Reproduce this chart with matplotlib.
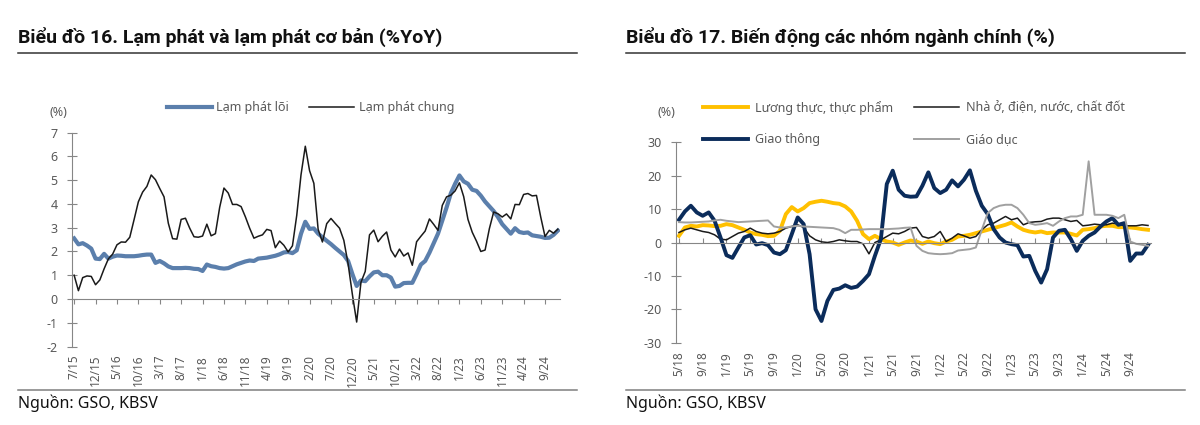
import matplotlib
matplotlib.use('Agg')
import matplotlib.pyplot as plt
from matplotlib.lines import Line2D

plt.rcParams['font.family'] = ['Noto Sans', 'DejaVu Sans']
plt.rcParams['axes.unicode_minus'] = False

# ---- Biểu đồ 16: 7/2015 - 12/2024 (%YoY) ----
core_cpi = [2.55, 2.3, 2.35, 2.25, 2.12, 1.7, 1.68, 1.9, 1.7, 1.78,
            1.83, 1.82, 1.8, 1.8, 1.8, 1.82, 1.85, 1.87, 1.87, 1.52,
            1.6, 1.5, 1.37, 1.3, 1.3, 1.3, 1.31, 1.3, 1.27, 1.26,
            1.18, 1.45, 1.38, 1.35, 1.3, 1.28, 1.3, 1.38, 1.46, 1.52,
            1.58, 1.62, 1.6, 1.7, 1.72, 1.74, 1.78, 1.82, 1.88, 1.96,
            1.98, 1.93, 2.05, 2.75, 3.25, 2.95, 2.97, 2.75, 2.6, 2.45,
            2.31, 2.15, 2.0, 1.85, 1.6, 1.05, 0.55, 0.78, 0.75, 0.95,
            1.12, 1.15, 1.0, 1.0, 0.9, 0.52, 0.55, 0.67, 0.68, 0.68,
            1.05, 1.45, 1.6, 1.95, 2.35, 2.75, 3.3, 3.85, 4.45, 4.85,
            5.2, 4.95, 4.85, 4.6, 4.55, 4.35, 4.1, 3.9, 3.7, 3.45,
            3.15, 2.95, 2.75, 2.98, 2.82, 2.78, 2.8, 2.68, 2.65, 2.62,
            2.57, 2.58, 2.7, 2.88]
headline_cpi = [1.0, 0.35, 0.9, 0.97, 0.95, 0.6, 0.8, 1.27, 1.69, 1.89,
                2.28, 2.4, 2.39, 2.6, 3.34, 4.09, 4.5, 4.74, 5.22, 5.02,
                4.65, 4.3, 3.19, 2.54, 2.52, 3.35, 3.4, 2.98, 2.62, 2.6,
                2.65, 3.15, 2.66, 2.75, 3.86, 4.67, 4.46, 3.98, 3.98, 3.89,
                3.46, 2.98, 2.56, 2.64, 2.7, 2.93, 2.88, 2.16, 2.44, 2.26,
                1.98, 2.24, 3.52, 5.23, 6.43, 5.4, 4.87, 2.93, 2.4, 3.17,
                3.39, 3.18, 2.98, 2.47, 1.48, 0.19, -0.97, 0.7, 1.16, 2.7,
                2.9, 2.41, 2.64, 2.82, 2.06, 1.77, 2.1, 1.81, 1.94, 1.42,
                2.41, 2.64, 2.86, 3.37, 3.14, 2.89, 3.94, 4.3, 4.37, 4.55,
                4.89, 4.31, 3.35, 2.81, 2.43, 2.0, 2.06, 2.96, 3.66, 3.59,
                3.45, 3.58, 3.37, 3.98, 3.97, 4.4, 4.44, 4.34, 4.36, 3.45,
                2.63, 2.89, 2.77, 2.94]
left_tick_labels = ['7/15', '12/15', '5/16', '10/16', '3/17', '8/17', '1/18',
                    '6/18', '11/18', '4/19', '9/19', '2/20', '7/20', '12/20',
                    '5/21', '10/21', '3/22', '8/22', '1/23', '6/23', '11/23',
                    '4/24', '9/24']

# ---- Biểu đồ 17: 5/2018 - 12/2024 (%) ----
food = [2.0, 4.5, 5.0, 4.8, 5.2, 5.1, 4.9, 5.0, 5.5, 5.2,
        4.5, 3.8, 3.0, 2.5, 2.3, 1.9, 2.0, 3.5, 8.5, 10.6,
        9.3, 10.3, 11.8, 12.2, 12.5, 12.2, 11.8, 11.6, 10.8, 9.3,
        6.5, 2.5, 1.0, 2.0, 1.0, 0.3, 0.0, -0.7, 0.0, 0.6,
        0.3, -0.4, 0.3, -0.2, -0.5, 0.3, 0.8, 1.8, 2.0, 2.3,
        2.8, 3.3, 3.8, 4.3, 4.8, 5.3, 6.0, 4.8, 3.8, 3.3,
        3.0, 3.3, 2.8, 3.0, 3.0, 3.0, 2.6, 2.1, 3.8, 4.0,
        4.3, 4.8, 5.0, 5.0, 4.6, 4.6, 4.5, 4.3, 4.0, 3.8]
housing = [3.0, 3.8, 4.3, 3.8, 3.3, 3.0, 2.3, 1.0, 0.8, 1.8,
           2.8, 3.3, 4.3, 3.3, 2.8, 2.6, 2.8, 3.3, 4.3, 4.8,
           5.3, 4.5, 2.0, 0.8, 0.2, 0.0, 0.3, 0.8, 0.5, 0.3,
           0.3, -0.4, -3.4, 0.0, 0.8, 1.8, 2.8, 2.6, 3.3, 4.3,
           4.5, 1.8, 1.3, 1.8, 3.3, 0.3, 1.3, 2.6, 2.0, 1.3,
           1.8, 3.8, 5.3, 5.8, 6.8, 7.8, 6.8, 7.3, 5.3, 6.0,
           6.2, 6.3, 7.0, 7.3, 7.3, 6.8, 6.3, 6.6, 5.0, 5.2,
           5.5, 5.3, 5.3, 5.8, 5.5, 5.0, 5.0, 5.0, 5.3, 5.1]
transport = [6.8, 9.3, 11.0, 9.0, 8.0, 9.0, 6.5, 1.5, -3.8, -4.6,
             -1.5, 1.5, 2.2, -0.6, -0.2, -0.8, -3.0, -3.5, -2.3, 2.5,
             7.5, 5.5, -3.5, -20.0, -23.5, -17.5, -14.2, -13.8, -12.8, -13.6,
             -13.2, -11.5, -9.5, -4.0, 1.0, 17.5, 21.5, 15.8, 14.0, 13.7,
             13.8, 17.0, 21.0, 16.3, 14.8, 15.8, 18.6, 16.8, 18.8, 21.6,
             15.5, 11.0, 8.5, 4.0, 1.5, 0.0, -0.5, -0.8, -4.2, -4.0,
             -8.5, -12.0, -8.0, 1.5, 3.5, 3.8, 1.0, -2.5, 0.5, 2.0,
             3.0, 4.8, 6.3, 7.3, 5.3, 5.8, -5.5, -3.3, -3.3, -0.7]
education = [6.1, 6.0, 6.0, 6.1, 6.2, 6.3, 6.6, 6.8, 6.5, 6.3,
             6.1, 6.2, 6.3, 6.4, 6.5, 6.6, 4.8, 4.5, 4.5, 4.8,
             5.0, 4.8, 4.7, 4.6, 4.5, 4.4, 4.3, 3.8, 2.8, 3.8,
             3.8, 3.9, 4.0, 4.0, 4.0, 4.0, 4.1, 4.2, 4.4, 4.5,
             -1.0, -2.5, -3.2, -3.4, -3.5, -3.4, -3.2, -2.4, -2.2, -2.0,
             -1.5, 3.8, 8.8, 10.3, 11.0, 11.3, 11.3, 10.3, 8.3, 5.8,
             5.3, 5.5, 5.8, 5.0, 6.3, 7.3, 7.8, 7.8, 8.3, 24.3,
             8.3, 8.3, 8.3, 8.0, 7.3, 8.3, 0.3, -0.4, -0.7, -1.0]
right_tick_labels = ['5/18', '9/18', '1/19', '5/19', '9/19', '1/20', '5/20',
                     '9/20', '1/21', '5/21', '9/21', '1/22', '5/22', '9/22',
                     '1/23', '5/23', '9/23', '1/24', '5/24', '9/24']

GREY_TXT = '#595959'
GREY_AX = '#868686'

fig = plt.figure(figsize=(12, 4.25), dpi=100)


def style_axes(ax, n, step, labels, ylim, yticks, tick_dir):
    ax.set_xlim(-0.5, n - 0.5)
    ax.set_ylim(*ylim)
    for s in ['top', 'right']:
        ax.spines[s].set_visible(False)
    ax.spines['left'].set_color(GREY_AX)
    ax.spines['bottom'].set_color(GREY_AX)
    ax.spines['bottom'].set_position(('data', 0))
    ax.set_yticks(yticks)
    ax.tick_params(axis='y', direction='inout', length=6.5, color=GREY_AX,
                   labelsize=9, labelcolor=GREY_TXT, pad=7)
    pos = list(range(0, n, step))
    ax.set_xticks(pos)
    ax.tick_params(axis='x', direction=tick_dir, length=3.5, color=GREY_AX,
                   labelbottom=False)
    # nhãn trục x nằm ở đáy biểu đồ
    sec = ax.secondary_xaxis('bottom')
    sec.set_xticks(pos, labels=labels)
    sec.tick_params(length=0, labelrotation=90, labelsize=8.5,
                    labelcolor=GREY_TXT, pad=6)
    for s in sec.spines.values():
        s.set_visible(False)


# =================== Biểu đồ 16 ===================
ax1 = fig.add_axes([72 / 1200, 1 - 346.5 / 425, 488 / 1200, 213.8 / 425])
x1 = range(len(core_cpi))
l_core, = ax1.plot(x1, core_cpi, color='#5B7FAC', lw=3.0, solid_joinstyle='round')
l_head, = ax1.plot(x1, headline_cpi, color='#1A1A1A', lw=1.1)
style_axes(ax1, len(core_cpi), 5, left_tick_labels, (-2, 7), range(-2, 8), 'out')

leg_kw = dict(frameon=False, fontsize=9, handlelength=3.6, borderaxespad=0,
              borderpad=0, labelcolor=GREY_TXT, loc='center left',
              bbox_transform=fig.transFigure)
lg = ax1.legend([l_core], ['Lạm phát lõi'], bbox_to_anchor=(167 / 1200, 1 - 108 / 425),
                handletextpad=0.3, **leg_kw)
ax1.add_artist(lg)
ax1.legend([l_head], ['Lạm phát chung'], bbox_to_anchor=(309 / 1200, 1 - 108 / 425),
           handletextpad=0.4, **leg_kw)

# =================== Biểu đồ 17 ===================
ax2 = fig.add_axes([676 / 1200, 1 - 342.7 / 425, 475 / 1200, 200.4 / 425])
x2 = range(len(food))
l_food, = ax2.plot(x2, food, color='#FFC000', lw=2.8, solid_joinstyle='round')
l_house, = ax2.plot(x2, housing, color='#1A1A1A', lw=1.1)
l_trans, = ax2.plot(x2, transport, color='#0B2C5B', lw=2.8, solid_joinstyle='round')
l_edu, = ax2.plot(x2, education, color='#A0A0A0', lw=1.4)
style_axes(ax2, len(food), 4, right_tick_labels, (-30, 30), range(-30, 31, 10), 'in')

lg = ax2.legend([l_food, l_trans], ['Lương thực, thực phẩm', 'Giao thông'],
                bbox_to_anchor=(703 / 1200, 1 - 123.5 / 425), labelspacing=1.5,
                handletextpad=0.55, **leg_kw)
ax2.add_artist(lg)
ax2.legend([l_house, l_edu], ['Nhà ở, điện, nước, chất đốt', 'Giáo dục'],
           bbox_to_anchor=(914 / 1200, 1 - 123.5 / 425), labelspacing=1.5,
           handletextpad=0.6, **leg_kw)

# =================== Tiêu đề, nguồn, đường kẻ ===================
for x0, x1_, title in [(18, 577, 'Biểu đồ 16. Lạm phát và lạm phát cơ bản (%YoY)'),
                       (626, 1185, 'Biểu đồ 17. Biến động các nhóm ngành chính (%)')]:
    fig.text(x0 / 1200, 1 - 37 / 425, title, fontsize=14, fontweight='bold',
             family=['Roboto', 'DejaVu Sans'], color='#111111', va='center')
    fig.add_artist(Line2D([x0 / 1200, x1_ / 1200], [1 - 53 / 425] * 2,
                          color='#333333', lw=1.1))
    fig.add_artist(Line2D([x0 / 1200, x1_ / 1200], [1 - 390 / 425] * 2,
                          color='#7F7F7F', lw=1.1))
    fig.text(x0 / 1200, 1 - 403 / 425, 'Nguồn: GSO, KBSV', fontsize=11.5,
             color='#111111', va='center')

fig.text(50 / 1200, 1 - 112 / 425, '(%)', fontsize=9, color=GREY_TXT, va='center')
fig.text(657 / 1200, 1 - 112 / 425, '(%)', fontsize=9, color=GREY_TXT, va='center')

fig.savefig('out.png', dpi=100)
